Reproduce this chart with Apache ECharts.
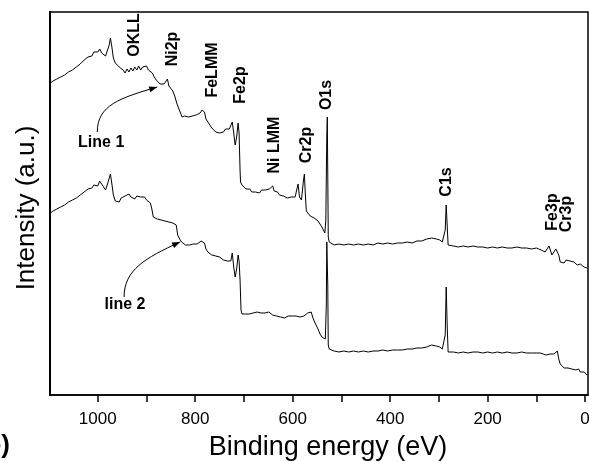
<!DOCTYPE html>
<html>
<head>
<meta charset="utf-8">
<script src="https://cdn.jsdelivr.net/npm/echarts@6/dist/echarts.min.js"></script>
<style>
html, body { margin: 0; padding: 0; background: #fff; }
#chart { width: 589px; height: 461px; }
</style>
</head>
<body>
<div id="chart"></div>
<script>
// XPS survey spectra: [binding energy (eV), intensity (a.u.)]
const line1 = [[1097,312],[1092,314],[1088,313],[1084,316],[1080,315],[1076,318],[1072,317],[1068,320],[1064,321],[1060,323],[1056,322],[1052,325],[1048,326],[1044,328],[1040,327],[1036,331],[1032,333],[1028,335],[1024,334],[1020,338],[1016,340],[1012,339],[1008,343],[1004,345],[1000,343],[996,346],[992,342],[988,344],[984,339],[980,345],[977,349],[974,357],[971,348],[968,337],[964,332],[960,333],[956,328],[952,330],[948,325],[944,322],[940,326],[936,323],[932,327],[928,324],[924,328],[920,325],[916,329],[912,325],[908,328],[904,326],[900,329],[896,325],[892,326],[888,322],[884,318],[880,315],[876,314],[872,311],[868,313],[864,311],[860,313],[857,316],[854,309],[850,307],[846,304],[842,299],[838,292],[835,288],[831,283],[827,278],[822,279],[818,277],[814,278],[810,276],[806,279],[802,278],[798,280],[794,281],[790,282],[786,285],[784,287],[781,283],[778,276],[774,273],[770,270],[766,267],[762,266],[758,263],[754,265],[750,262],[746,264],[742,263],[738,266],[734,264],[730,266],[727,264],[724,273],[721,262],[718,250],[715,258],[712,272],[710,262],[708,225],[707,213],[704,210],[700,208],[696,206],[692,205],[688,206],[684,203],[680,205],[676,203],[672,204],[668,202],[664,205],[660,203],[656,205],[652,204],[648,206],[644,205],[641,209],[638,204],[635,202],[631,203],[627,200],[623,201],[619,199],[615,200],[611,197],[607,199],[603,198],[599,200],[595,198],[591,199],[589,211],[586,198],[582,195],[580,197],[578,214],[576,221],[574,200],[572,184],[568,182],[564,179],[560,180],[556,177],[552,176],[548,174],[544,172],[540,168],[537,165],[534,162],[532,175],[530,260],[529,278],[528,220],[527,158],[525,153],[521,152],[515,150],[505,151],[495,150],[485,151],[475,150],[465,151],[455,150],[445,151],[435,150],[425,152],[415,151],[405,152],[395,151],[385,152],[375,152],[365,153],[355,152],[345,154],[335,154],[325,156],[315,157],[305,156],[298,155],[293,153],[290,154],[287,165],[285,190],[283,170],[281,150],[277,148],[270,149],[260,148],[250,149],[240,148],[230,149],[220,148],[210,148],[200,147],[190,148],[180,147],[170,148],[160,147],[150,147],[140,148],[130,147],[120,147],[110,146],[100,147],[95,146],[90,145],[86,146],[82,143],[78,145],[74,149],[71,147],[68,140],[64,142],[60,146],[57,148],[54,140],[51,133],[47,134],[43,132],[39,135],[35,133],[31,134],[27,136],[23,133],[19,131],[16,130],[13,132],[10,131],[6,129],[2,128],[-4,127]];

const line2 = [[1097,182],[1092,184],[1088,183],[1084,186],[1080,185],[1076,188],[1072,187],[1068,190],[1064,191],[1060,193],[1056,192],[1052,195],[1048,196],[1044,197],[1040,198],[1036,200],[1032,201],[1028,203],[1024,202],[1020,206],[1016,208],[1012,207],[1008,210],[1004,212],[1000,209],[996,214],[992,211],[988,212],[984,205],[980,211],[977,213],[974,221],[971,211],[968,200],[964,194],[960,196],[956,193],[952,197],[948,195],[944,199],[940,197],[936,201],[932,198],[928,200],[924,196],[920,199],[916,197],[912,198],[908,196],[904,198],[900,195],[896,194],[892,192],[889,186],[886,178],[882,177],[878,176],[874,178],[870,175],[866,176],[862,174],[858,175],[854,173],[850,175],[846,172],[842,174],[839,170],[836,160],[832,156],[828,153],[824,151],[820,150],[816,152],[812,150],[808,152],[804,151],[800,152],[796,151],[792,153],[788,154],[784,156],[781,152],[778,146],[774,143],[770,141],[766,140],[762,138],[758,139],[754,137],[750,138],[746,136],[742,135],[738,136],[734,134],[730,133],[727,134],[724,142],[721,128],[718,118],[715,126],[712,140],[710,134],[708,115],[706,85],[704,81],[701,80],[697,81],[693,79],[689,81],[685,80],[681,82],[677,81],[673,83],[669,81],[665,82],[661,80],[657,82],[653,81],[649,83],[645,81],[641,80],[637,81],[633,79],[629,80],[625,78],[621,79],[617,77],[613,78],[609,79],[605,77],[601,79],[597,78],[593,79],[589,81],[585,78],[581,80],[577,79],[573,81],[569,82],[566,80],[562,83],[559,78],[556,74],[552,70],[548,66],[544,61],[540,58],[536,57],[533,56],[531,90],[530,153],[528,110],[527,50],[525,46],[521,45],[515,44],[505,43],[495,44],[485,43],[475,44],[465,43],[455,44],[445,43],[435,44],[425,44],[415,45],[405,44],[395,45],[385,45],[375,45],[365,46],[355,46],[345,47],[335,47],[325,48],[315,50],[305,49],[298,48],[293,46],[290,47],[287,60],[285,108],[283,70],[281,43],[277,42],[270,43],[260,42],[250,43],[240,42],[230,43],[220,43],[210,42],[200,43],[190,42],[180,43],[170,42],[160,43],[150,42],[140,42],[130,43],[120,42],[110,42],[100,42],[92,42],[86,41],[80,40],[76,42],[72,41],[68,42],[64,41],[60,43],[57,44],[54,36],[51,31],[47,29],[43,27],[39,26],[35,27],[31,28],[27,26],[23,27],[19,25],[16,24],[13,26],[10,23],[6,22],[2,23],[-4,20]];

const tickValues = [0, 100, 200, 300, 400, 500, 600, 700, 800, 900, 1000];
const labelValues = [0, 200, 400, 600, 800, 1000];

// peak assignments (rotated labels)
const peakNames = ['OKLL', 'Ni2p', 'FeLMM', 'Fe2p', 'Ni LMM', 'Cr2p', 'O1s', 'C1s', 'Fe3p', 'Cr3p'];
const peakLabelAt = [[925,360],[847,346],[765,325],[706,310],[638,250],[572,250],[531,300],[285,213],[66,183],[37,181]];

// curve names with arrows pointing at the curves
const curveNames = ['Line 1', 'line 2'];
const curveLabelAt = [[993,252],[944,90]];
const arrowPaths = [
  [[1001,263],[1001,290],[954,297],[878,308]],
  [[946,98],[946,125],[903,137],[831,153]]
];

const font = 'Liberation Sans, Arial, sans-serif';
const chart = echarts.init(document.getElementById('chart'));

chart.setOption({
  animation: false,
  grid: {
    left: 50, right: 1, top: 12, bottom: 66,
    containLabel: false, outerBoundsMode: 'none',
    show: true, borderColor: '#000', borderWidth: 1.5
  },
  xAxis: {
    type: 'value', inverse: true, min: -6, max: 1098,
    splitLine: { show: false },
    axisLine: { onZero: false, lineStyle: { color: '#000', width: 1.5 } },
    axisTick: { customValues: tickValues, length: 7, lineStyle: { color: '#000', width: 1.5 } },
    axisLabel: {
      customValues: labelValues, color: '#000', fontSize: 17, fontFamily: font, margin: 16,
      formatter: v => String(v)
    }
  },
  yAxis: {
    type: 'value', min: 0, max: 383,
    splitLine: { show: false },
    axisTick: { show: false },
    axisLabel: { show: false },
    axisLine: { show: true, onZero: false, lineStyle: { color: '#000', width: 2 } }
  },
  series: [line1, line2].map(d => ({
    type: 'line', data: d, symbol: 'none', silent: true,
    lineStyle: { color: '#000', width: 1 }
  }))
});

const px = p => chart.convertToPixel({ gridIndex: 0 }, p);
const graphics = [];

peakNames.forEach((name, i) => {
  const p = px(peakLabelAt[i]);
  graphics.push({
    type: 'text', x: p[0], y: p[1], rotation: Math.PI / 2,
    style: { text: name, fill: '#000', font: 'bold 16px ' + font, align: 'center', verticalAlign: 'middle' }
  });
});

curveNames.forEach((name, i) => {
  const p = px(curveLabelAt[i]);
  graphics.push({
    type: 'text', x: p[0], y: p[1],
    style: { text: name, fill: '#000', font: 'bold 16px ' + font, align: 'center', verticalAlign: 'middle' }
  });
  const [s, c1, c2, e] = arrowPaths[i].map(px);
  graphics.push({
    type: 'bezierCurve',
    shape: { x1: s[0], y1: s[1], cpx1: c1[0], cpy1: c1[1], cpx2: c2[0], cpy2: c2[1], x2: e[0], y2: e[1] },
    style: { stroke: '#000', lineWidth: 1, fill: null }
  });
  let dx = e[0] - c2[0], dy = e[1] - c2[1];
  const len = Math.hypot(dx, dy);
  dx /= len; dy /= len;
  graphics.push({
    type: 'polygon',
    shape: { points: [
      [e[0], e[1]],
      [e[0] - dx * 8 - dy * 3, e[1] - dy * 8 + dx * 3],
      [e[0] - dx * 8 + dy * 3, e[1] - dy * 8 - dx * 3]
    ] },
    style: { fill: '#000' }
  });
});

// axis titles
graphics.push({
  type: 'text', x: 328, y: 448,
  style: { text: 'Binding energy (eV)', fill: '#000', font: '27px ' + font, align: 'center', verticalAlign: 'middle' }
});
graphics.push({
  type: 'text', x: 27, y: 208, rotation: Math.PI / 2,
  style: { text: 'Intensity (a.u.)', fill: '#000', font: '26px ' + font, align: 'center', verticalAlign: 'middle' }
});
// panel letter, cut at the left edge as in the source figure
graphics.push({
  type: 'text', x: 10, y: 446,
  style: { text: '(b)', fill: '#000', font: 'bold 26px ' + font, align: 'right', verticalAlign: 'middle' }
});

chart.setOption({ graphic: graphics });
</script>
</body>
</html>
